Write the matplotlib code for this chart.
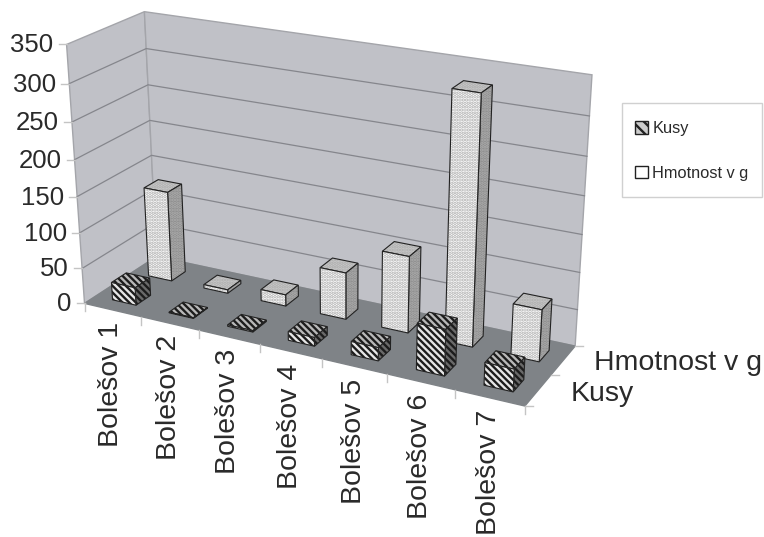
import matplotlib
matplotlib.use("Agg")
import matplotlib.pyplot as plt
import numpy as np
from matplotlib.patches import Polygon, Patch, Rectangle

plt.rcParams["font.family"] = ["Liberation Sans", "DejaVu Sans"]
plt.rcParams["hatch.linewidth"] = 1.7

categories = ["Bolešov 1", "Bolešov 2", "Bolešov 3", "Bolešov 4",
              "Bolešov 5", "Bolešov 6", "Bolešov 7"]
kusy = [25, 1, 2, 12, 18, 62, 30]
hmotnost = [128, 5, 16, 65, 105, 329, 70]
yticks = [0, 50, 100, 150, 200, 250, 300, 350]
series_names = ["Kusy", "Hmotnost v g"]

# corners of the chart box: (category pos, depth, value) -> pixel
corners = [
    (0, 0, 0, 84, 302), (0, 0, 350, 67, 45),
    (0, 1, 0, 157, 258), (0, 1, 350, 144, 11),
    (7, 0, 0, 525, 407),
    (7, 1, 0, 575, 345), (7, 1, 350, 592, 75),
]


def fit_camera(pts):
    rows = []
    for u, v, w, x, y in pts:
        rows.append([u, v, w, 1, 0, 0, 0, 0, -x*u, -x*v, -x*w, -x])
        rows.append([0, 0, 0, 0, u, v, w, 1, -y*u, -y*v, -y*w, -y])
    s = np.linalg.svd(np.array(rows, dtype=float))[2]
    return s[-1].reshape(3, 4)


P = fit_camera(corners)


def proj(u, v, w):
    h = P @ np.array([u, v, w, 1.0])
    return h[0]/h[2], h[1]/h[2]


fig = plt.figure(figsize=(7.64, 5.37), dpi=100)
ax = fig.add_axes([0, 0, 1, 1])
ax.set_xlim(0, 764)
ax.set_ylim(537, 0)
ax.axis("off")


def face(pts, fc, hatch=None, hatch_col="#222222", ec="#222222", lw=0.8, z=3):
    xy = [proj(*p) for p in pts]
    if hatch:
        # hatch takes the edge colour, so it gets its own polygon
        ax.add_patch(Polygon(xy, closed=True, fc=fc, ec=hatch_col, lw=0, hatch=hatch, zorder=z))
        ax.add_patch(Polygon(xy, closed=True, fill=False, ec=ec, lw=lw, zorder=z))
    else:
        ax.add_patch(Polygon(xy, closed=True, fc=fc, ec=ec, lw=lw, zorder=z))


WALL = "#c0c1c7"
EDGE = "#a4a5aa"
TXT = "#2a2a2a"
top = yticks[-1]

# walls and floor
face([(0, 0, 0), (0, 1, 0), (0, 1, top), (0, 0, top)], WALL, ec=EDGE, lw=1, z=0)
face([(0, 1, 0), (7, 1, 0), (7, 1, top), (0, 1, top)], WALL, ec=EDGE, lw=1, z=0)
face([(0, 0, 0), (7, 0, 0), (7, 1, 0), (0, 1, 0)], "#7f8387", ec="#7f8387", lw=1, z=0)

for t in yticks[1:-1]:
    a, b, c = proj(0, 0, t), proj(0, 1, t), proj(7, 1, t)
    ax.plot([a[0], b[0], c[0]], [a[1], b[1], c[1]], color="#85868c", lw=0.9, zorder=1)

# value axis
for t in yticks:
    x, y = proj(0, 0, t)
    ax.plot([x-8, x], [y, y], color="#c4c4c4", lw=1)
    ax.text(x-13, y+1, str(t), ha="right", va="center", fontsize=18.5, color=TXT)

# category axis
for i in range(8):
    x, y = proj(i, 0, 0)
    ax.plot([x, x], [y, y+8], color="#c4c4c4", lw=1)
for i, name in enumerate(categories):
    x, y = proj(i+0.5, 0, 0)
    ax.text(x-1, y+12, name, rotation=90, ha="center", va="top", fontsize=20.5, color=TXT)

# series axis
for d in [0, 0.5, 1]:
    x, y = proj(7, d, 0)
    ax.plot([x, x+8], [y, y], color="#c4c4c4", lw=1)
x, y = proj(7, 0.25, 0)
ax.text(x+33, y+4, series_names[0], ha="left", va="center", fontsize=20.5, color=TXT)
x, y = proj(7, 0.75, 0)
ax.text(x+31, y+3, series_names[1], ha="left", va="center", fontsize=20.5, color=TXT)


def bar(i, depth, val, cols, hatch_col, hatch_front, hatch_side):
    u0, u1 = i+0.51-0.21, i+0.51+0.21
    v0, v1 = depth-0.1, depth+0.1
    face([(u0, v0, val), (u1, v0, val), (u1, v1, val), (u0, v1, val)], cols[2], hatch_side, hatch_col)
    face([(u1, v0, 0), (u1, v1, 0), (u1, v1, val), (u1, v0, val)], cols[1], hatch_side, hatch_col)
    face([(u0, v0, 0), (u1, v0, 0), (u1, v0, val), (u0, v0, val)], cols[0], hatch_front, hatch_col)


# back row first so the front row covers it
for i, val in enumerate(hmotnost):
    bar(i, 0.75, val, ("#ffffff", "#8c8c8c", "#c8c8c8"), "#adadad", ".....", ".....")
for i, val in enumerate(kusy):
    bar(i, 0.25, val, ("#e6e6e6", "#6a6a6a", "#b8b8b8"), "#1c1c1c", "\\\\\\\\\\", "\\\\\\\\\\")

# legend frame is its own box, the entries sit lower in it than a legend pads them
ax.add_patch(Rectangle((622, 103), 140, 94, fc="white", ec="#d0d0d0", lw=1))
handles = [Patch(fc="#cccccc", ec="#222222", hatch="\\\\\\", label=series_names[0]),
           Patch(fc="#ffffff", ec="#222222", label=series_names[1])]
leg = ax.legend(handles=handles, loc="upper left", bbox_to_anchor=(622/764, 1-108/537),
                borderaxespad=0, fontsize=11.8, frameon=False,
                handlelength=0.8, handleheight=0.8,
                labelspacing=1.8, handletextpad=0.25, borderpad=0.8)
for t in leg.get_texts():
    t.set_color(TXT)

fig.savefig("out.png", dpi=100, facecolor="white")
